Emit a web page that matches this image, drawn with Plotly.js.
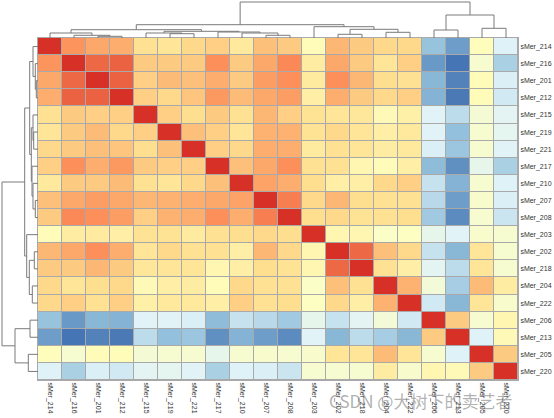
<!DOCTYPE html>
<html>
<head>
<meta charset="utf-8">
<script src="https://cdn.plot.ly/plotly-3.0.1.min.js"></script>
<style>html,body{margin:0;padding:0;background:#fff;}#chart{width:554px;height:418px;}</style>
</head>
<body>
<div id="chart"></div>
<script>
// Sample order (rows and columns share the same clustered order)
const labels = ["sMer_214","sMer_216","sMer_201","sMer_212","sMer_215","sMer_219","sMer_221","sMer_217","sMer_210","sMer_207","sMer_208","sMer_203","sMer_202","sMer_218","sMer_204","sMer_222","sMer_206","sMer_213","sMer_205","sMer_220"];

// Correlation values (scaled 0..1 on the colour ramp), rows in the order above
const r214 = [1.00,0.82,0.78,0.77,0.66,0.64,0.68,0.70,0.62,0.73,0.71,0.52,0.75,0.71,0.68,0.68,0.18,0.09,0.51,0.33];
const r216 = [0.82,1.00,0.90,0.91,0.71,0.71,0.71,0.83,0.71,0.78,0.84,0.60,0.78,0.71,0.64,0.70,0.08,0.00,0.45,0.22];
const r201 = [0.78,0.90,1.00,0.91,0.70,0.74,0.73,0.77,0.71,0.80,0.83,0.61,0.83,0.75,0.67,0.66,0.15,0.03,0.52,0.32];
const r212 = [0.77,0.91,0.91,1.00,0.70,0.68,0.72,0.81,0.74,0.78,0.80,0.59,0.77,0.71,0.68,0.70,0.14,0.01,0.52,0.30];
const r215 = [0.66,0.71,0.70,0.70,1.00,0.70,0.67,0.71,0.66,0.75,0.70,0.65,0.64,0.63,0.53,0.58,0.34,0.26,0.44,0.35];
const r219 = [0.64,0.71,0.74,0.68,0.70,1.00,0.73,0.70,0.64,0.76,0.76,0.65,0.68,0.64,0.59,0.62,0.34,0.17,0.45,0.36];
const r221 = [0.68,0.71,0.73,0.72,0.67,0.73,1.00,0.70,0.68,0.77,0.77,0.61,0.66,0.64,0.60,0.62,0.32,0.19,0.45,0.34];
const r217 = [0.70,0.83,0.77,0.81,0.71,0.70,0.70,1.00,0.73,0.78,0.83,0.66,0.66,0.55,0.52,0.59,0.16,0.06,0.37,0.22];
const r210 = [0.62,0.71,0.71,0.74,0.66,0.64,0.68,0.73,1.00,0.79,0.77,0.67,0.59,0.59,0.68,0.70,0.28,0.14,0.45,0.33];
const r207 = [0.73,0.78,0.80,0.78,0.75,0.76,0.77,0.78,0.79,1.00,0.86,0.68,0.75,0.67,0.66,0.66,0.25,0.09,0.46,0.32];
const r208 = [0.71,0.84,0.83,0.80,0.70,0.76,0.77,0.83,0.77,0.86,1.00,0.67,0.68,0.65,0.66,0.67,0.20,0.05,0.45,0.29];
const r203 = [0.52,0.60,0.61,0.59,0.65,0.65,0.61,0.66,0.67,0.68,0.67,1.00,0.55,0.55,0.48,0.49,0.37,0.34,0.46,0.45];
const r202 = [0.75,0.78,0.83,0.77,0.64,0.68,0.66,0.66,0.59,0.75,0.68,0.55,1.00,0.90,0.73,0.68,0.28,0.15,0.64,0.45];
const r218 = [0.71,0.71,0.75,0.71,0.63,0.64,0.64,0.55,0.59,0.67,0.65,0.55,0.90,1.00,0.66,0.59,0.35,0.26,0.64,0.45];
const r204 = [0.68,0.64,0.67,0.68,0.53,0.59,0.60,0.52,0.68,0.66,0.66,0.48,0.73,0.66,1.00,0.76,0.43,0.21,0.74,0.60];
const r222 = [0.68,0.70,0.66,0.70,0.58,0.62,0.62,0.59,0.70,0.66,0.67,0.49,0.68,0.59,0.76,1.00,0.30,0.15,0.64,0.46];
const r206 = [0.18,0.08,0.15,0.14,0.34,0.34,0.32,0.16,0.28,0.25,0.20,0.37,0.28,0.35,0.43,0.30,1.00,0.71,0.45,0.55];
const r213 = [0.09,0.00,0.03,0.01,0.26,0.17,0.19,0.06,0.14,0.09,0.05,0.34,0.15,0.26,0.21,0.15,0.71,1.00,0.33,0.53];
const r205 = [0.51,0.45,0.52,0.52,0.44,0.45,0.45,0.37,0.45,0.46,0.45,0.46,0.64,0.64,0.74,0.64,0.45,0.33,1.00,0.71];
const r220 = [0.33,0.22,0.32,0.30,0.35,0.36,0.34,0.22,0.33,0.32,0.29,0.45,0.45,0.45,0.60,0.46,0.55,0.53,0.71,1.00];

// Dendrogram merges (shared by rows and columns): left child, right child, height
const mergeLeft   = ["sMer_201","sMer_216","sMer_214","sMer_219","sMer_215","sMer_207","sMer_210","sMer_217","m4","m2","sMer_202","sMer_204","m10","sMer_203","m9","sMer_206","sMer_205","m15","m14"];
const mergeRight  = ["sMer_212","m0","m1","sMer_221","m3","sMer_208","m5","m6","m7","m8","sMer_218","sMer_222","m11","m12","m13","sMer_213","sMer_220","m16","m17"];
const mergeHeight = [1.7,2.7,5.0,4.3,5.0,2.7,5.0,6.0,6.7,8.3,3.7,5.7,8.7,11.3,13.3,8.0,9.7,23.0,36.0];

const z = [r214,r216,r201,r212,r215,r219,r221,r217,r210,r207,r208,r203,r202,r218,r204,r222,r206,r213,r205,r220];
const idx = labels.map((_, i) => i);

// Build dendrogram segments
const pos = {}, hgt = {};
labels.forEach((l, i) => { pos[l] = i; hgt[l] = 0; });
const dPos = [], dH = [];
mergeLeft.forEach((a, k) => {
  const b = mergeRight[k], h = mergeHeight[k], id = "m" + k;
  dPos.push(pos[a], pos[a], pos[b], pos[b], null);
  dH.push(hgt[a], h, h, hgt[b], null);
  pos[id] = (pos[a] + pos[b]) / 2; hgt[id] = h;
});

const W = 554, H = 418;
const hx0 = 38, hx1 = 518, hy0 = 38, hy1 = 380;
const xd = [hx0 / W, hx1 / W];
const yd = [(H - hy1) / H, (H - hy0) / H];

const grid = '#a9a9a9';
const data = [
  {
    type: 'heatmap', x: idx, y: idx, z: z, zmin: 0, zmax: 1,
    colorscale: [[0,'#4575B4'],[1/6,'#91BFDB'],[2/6,'#E0F3F8'],[0.5,'#FFFFBF'],[4/6,'#FEE090'],[5/6,'#FC8D59'],[1,'#D73027']],
    showscale: false, xgap: 1, ygap: 1, hoverinfo: 'skip', xaxis: 'x', yaxis: 'y'
  },
  { type: 'scatter', mode: 'lines', x: dPos, y: dH, xaxis: 'x2', yaxis: 'y2',
    line: { color: '#7a7a7a', width: 1 }, hoverinfo: 'skip', connectgaps: false },
  { type: 'scatter', mode: 'lines', x: dH, y: dPos, xaxis: 'x3', yaxis: 'y3',
    line: { color: '#7a7a7a', width: 1 }, hoverinfo: 'skip', connectgaps: false }
];

const tf = { family: 'Liberation Sans, Arial, sans-serif', size: 7, color: '#333' };
const layout = {
  width: W, height: H, margin: { l: 0, r: 0, t: 0, b: 0 },
  paper_bgcolor: '#ffffff', plot_bgcolor: '#ffffff', showlegend: false,
  xaxis: { domain: xd, range: [-0.5, 19.5], tickvals: idx, ticktext: labels, tickangle: 90,
    tickfont: tf, showgrid: false, zeroline: false, ticks: '', anchor: 'y',
    showline: true, mirror: true, linecolor: grid, linewidth: 1 },
  yaxis: { domain: yd, range: [19.5, -0.5], tickvals: idx, ticktext: labels, side: 'right',
    tickfont: tf, showgrid: false, zeroline: false, ticks: '', anchor: 'x',
    showline: true, mirror: true, linecolor: grid, linewidth: 1 },
  xaxis2: { domain: xd, range: [-0.5, 19.5], visible: false, anchor: 'y2' },
  yaxis2: { domain: [(H - hy0) / H, 1], range: [0, 38], visible: false, anchor: 'x2' },
  xaxis3: { domain: [0, hx0 / W], range: [38, 0], visible: false, anchor: 'y3' },
  yaxis3: { domain: yd, range: [19.5, -0.5], visible: false, anchor: 'x3' },
  shapes: [{
    type: 'rect', xref: 'x domain', yref: 'y domain', x0: 0, x1: 1, y0: 0, y1: 1,
    fillcolor: grid, line: { width: 0 }, layer: 'below'
  }],
  annotations: [{
    text: 'CSDN @大树下的卖艺者', xref: 'paper', yref: 'paper',
    x: 327 / W, y: (H - 400) / H, xanchor: 'left', yanchor: 'middle', showarrow: false,
    font: { family: 'Noto Sans CJK SC, Noto Sans, sans-serif', size: 17, color: 'rgba(110,110,110,0.55)' }
  }]
};

Plotly.newPlot('chart', data, layout, { staticPlot: true, displayModeBar: false });
</script>
</body>
</html>
